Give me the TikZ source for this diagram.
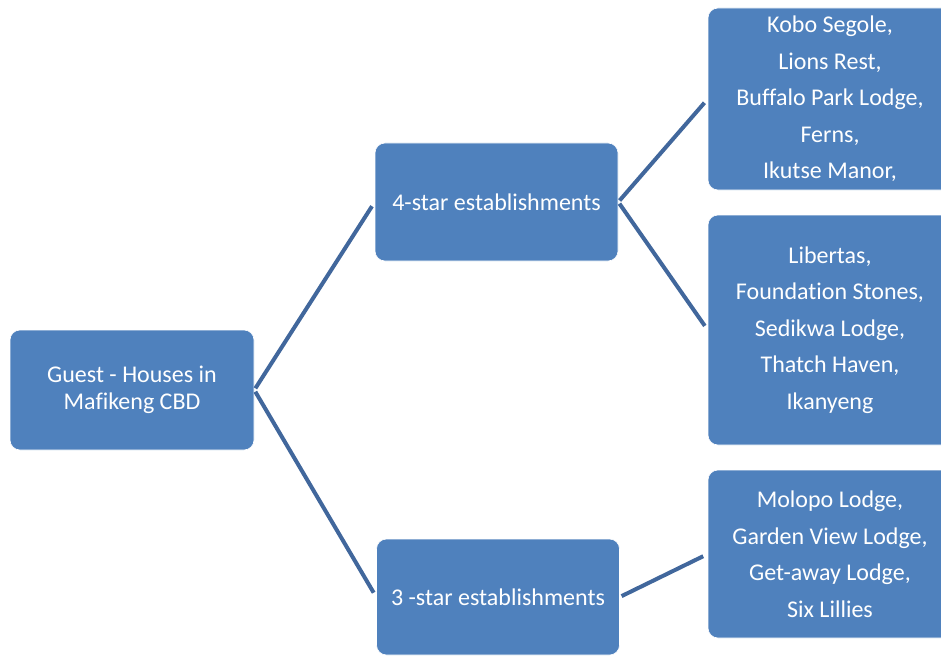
\documentclass[tikz,border=0pt]{standalone}
\usepackage{fontspec}
\setmainfont[Ligatures=NoCommon]{Carlito}
\definecolor{boxblue}{HTML}{4F81BD}
\definecolor{lineblue}{HTML}{41679C}
\tikzset{
  box/.style={rectangle, rounded corners=10pt, fill=boxblue, draw=white, line width=0.6pt,
    text=white, align=center, inner sep=0pt, font=\fontsize{24}{27}\selectfont},
  listbox/.style={box, font=\fontsize{24}{36.5}\selectfont},
  conn/.style={draw=lineblue, line width=4pt, shorten <=2pt, shorten >=5pt}
}
\begin{document}
\begin{tikzpicture}[x=1pt,y=1pt]
\useasboundingbox (0,0) rectangle (941,-655);
\clip (0,0) rectangle (941,-655);
\node[box, minimum width=244pt, minimum height=120pt] (root) at (132,-390) {Guest - Houses in\\Mafikeng CBD};
\node[box, minimum width=243pt, minimum height=118pt] (four) at (496.5,-202) {4-star establishments};
\node[box, minimum width=243pt, minimum height=116pt] (three) at (498,-597) {3 -star establishments};
\node[listbox, minimum width=244pt, minimum height=182pt] (r1) at (830,-99) {Kobo Segole,\\Lions Rest,\\Buffalo Park Lodge,\\Ferns,\\Ikutse Manor,};
\node[listbox, minimum width=244pt, minimum height=230pt] (r2) at (830,-330) {Libertas,\\Foundation Stones,\\Sedikwa Lodge,\\Thatch Haven,\\Ikanyeng};
\node[listbox, minimum width=244pt, minimum height=168pt] (r3) at (830,-554) {Molopo Lodge,\\Garden View Lodge,\\Get-away Lodge,\\Six Lillies};
\path[conn] (root.east) -- (four.west);
\path[conn] (root.east) -- (three.west);
\path[conn] (four.east) -- (r1.west);
\path[conn] (four.east) -- (r2.west);
\path[conn] (three.east) -- (r3.west);
\end{tikzpicture}
\end{document}
